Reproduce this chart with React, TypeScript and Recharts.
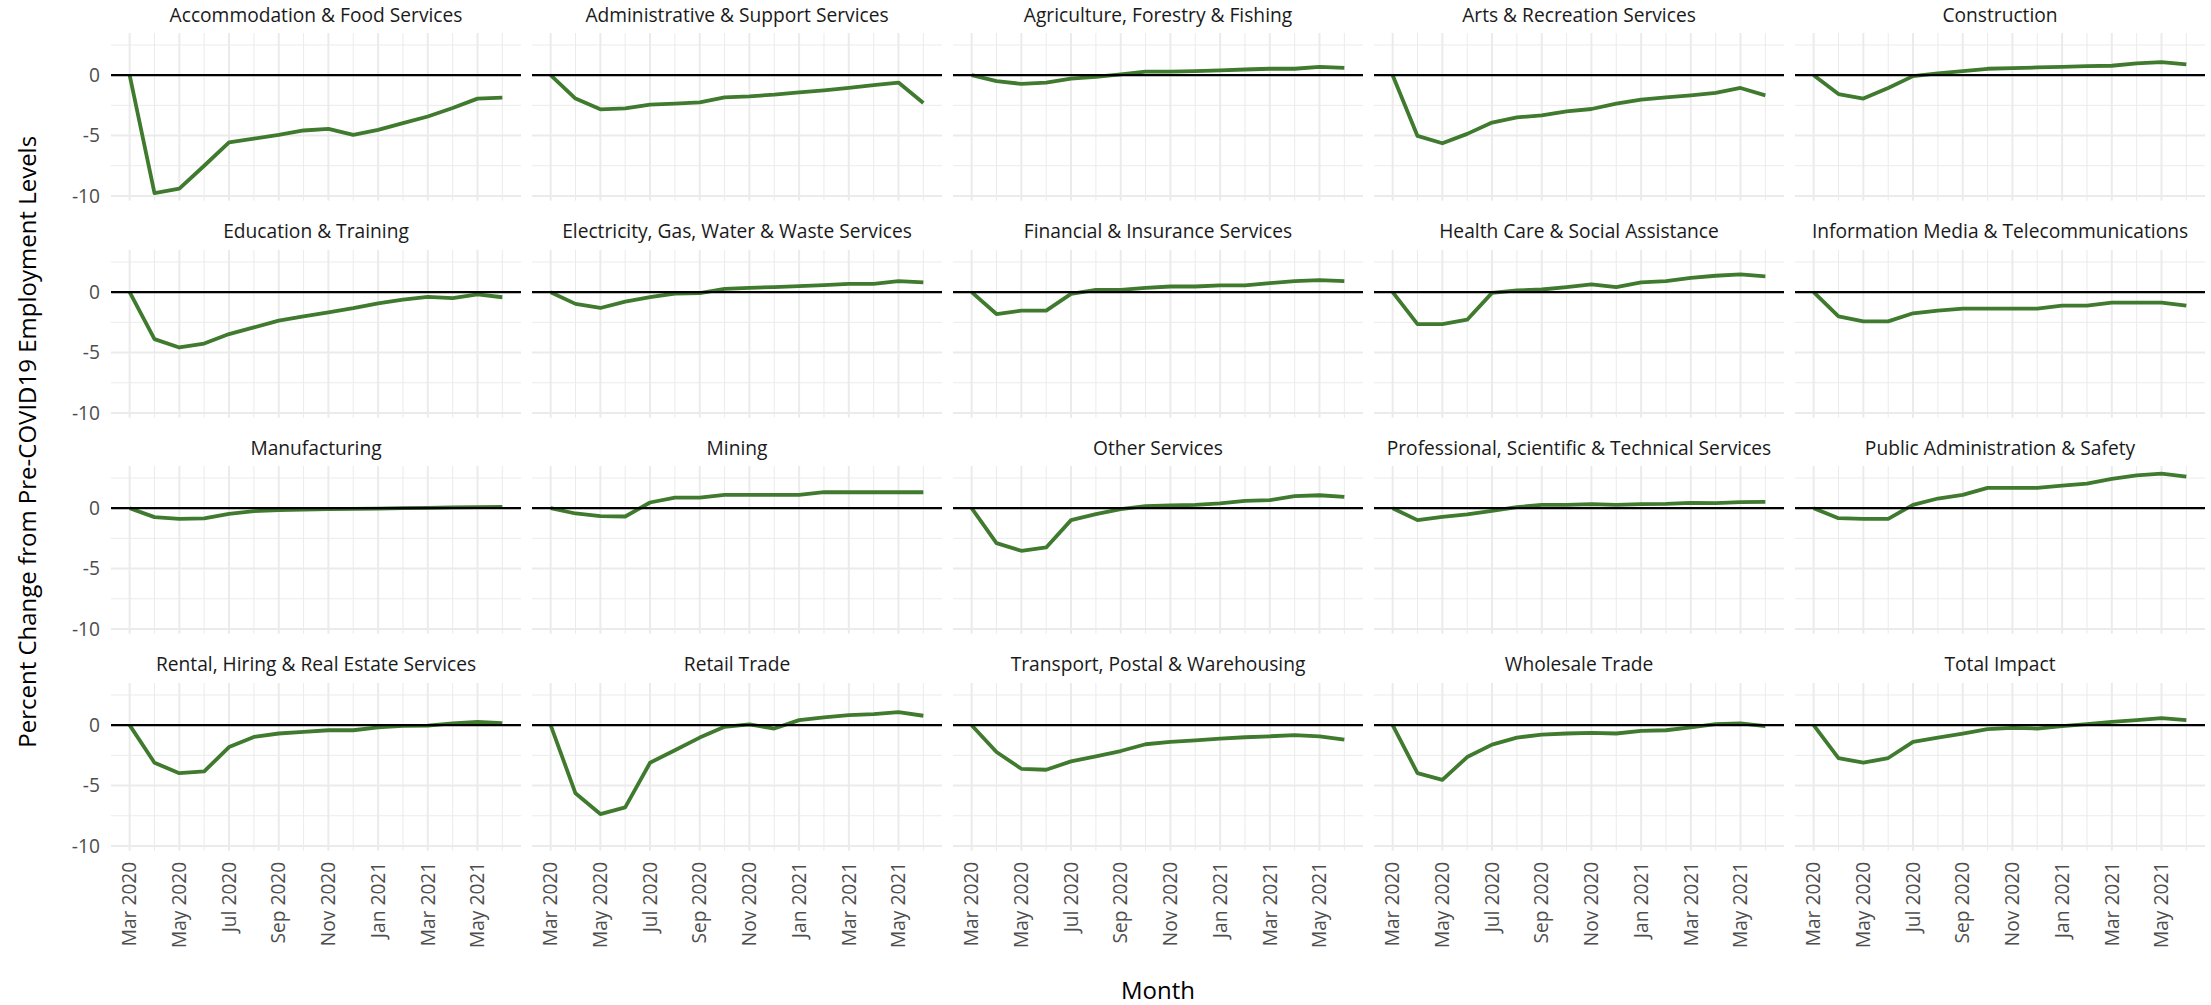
import React from 'react'
import { LineChart, Line, XAxis, YAxis, CartesianGrid, ReferenceLine } from 'recharts'

const MONTHS = [
  'Mar 2020', 'Apr 2020', 'May 2020', 'Jun 2020', 'Jul 2020', 'Aug 2020', 'Sep 2020', 'Oct 2020',
  'Nov 2020', 'Dec 2020', 'Jan 2021', 'Feb 2021', 'Mar 2021', 'Apr 2021', 'May 2021', 'Jun 2021',
]

const INDUSTRIES = [
  'Accommodation & Food Services', 'Administrative & Support Services', 'Agriculture, Forestry & Fishing',
  'Arts & Recreation Services', 'Construction', 'Education & Training',
  'Electricity, Gas, Water & Waste Services', 'Financial & Insurance Services', 'Health Care & Social Assistance',
  'Information Media & Telecommunications', 'Manufacturing', 'Mining', 'Other Services',
  'Professional, Scientific & Technical Services', 'Public Administration & Safety',
  'Rental, Hiring & Real Estate Services', 'Retail Trade', 'Transport, Postal & Warehousing',
  'Wholesale Trade', 'Total Impact',
]

// percent change from pre-COVID19 employment, Mar 2020 .. Jun 2021
const accommodation = [0, -9.76, -9.4, -7.5, -5.56, -5.25, -4.94, -4.58, -4.44, -4.94, -4.53, -3.97, -3.42, -2.72, -1.94, -1.86]
const administrative = [0, -1.94, -2.83, -2.75, -2.44, -2.36, -2.25, -1.83, -1.75, -1.61, -1.42, -1.25, -1.06, -0.83, -0.61, -2.31]
const agriculture = [0, -0.5, -0.72, -0.61, -0.28, -0.14, 0.06, 0.3, 0.3, 0.33, 0.39, 0.47, 0.53, 0.53, 0.69, 0.61]
const arts = [0, -5.03, -5.64, -4.86, -3.92, -3.5, -3.33, -3.0, -2.8, -2.36, -2.03, -1.83, -1.67, -1.47, -1.06, -1.67]
const construction = [0, -1.56, -1.94, -1.06, -0.08, 0.14, 0.33, 0.53, 0.58, 0.64, 0.69, 0.75, 0.78, 0.97, 1.08, 0.89]
const education = [0, -3.89, -4.58, -4.25, -3.47, -2.92, -2.36, -2.0, -1.67, -1.33, -0.92, -0.61, -0.39, -0.5, -0.19, -0.42]
const electricity = [0, -0.97, -1.31, -0.78, -0.42, -0.11, -0.08, 0.28, 0.36, 0.42, 0.5, 0.58, 0.69, 0.69, 0.92, 0.81]
const financial = [0, -1.81, -1.53, -1.53, -0.14, 0.19, 0.19, 0.36, 0.47, 0.47, 0.56, 0.56, 0.75, 0.92, 1.0, 0.92]
const health = [0, -2.64, -2.64, -2.28, -0.06, 0.14, 0.22, 0.42, 0.64, 0.42, 0.81, 0.92, 1.19, 1.36, 1.47, 1.31]
const infoMedia = [0, -2.0, -2.42, -2.42, -1.75, -1.53, -1.36, -1.36, -1.36, -1.36, -1.11, -1.11, -0.86, -0.86, -0.86, -1.11]
const manufacturing = [0, -0.74, -0.88, -0.85, -0.47, -0.25, -0.17, -0.11, -0.08, -0.06, -0.03, 0, 0.03, 0.06, 0.08, 0.11]
const mining = [0, -0.44, -0.66, -0.69, 0.47, 0.88, 0.88, 1.1, 1.1, 1.1, 1.1, 1.32, 1.32, 1.32, 1.32, 1.32]
const otherServices = [0, -2.89, -3.53, -3.25, -0.99, -0.5, -0.08, 0.17, 0.22, 0.28, 0.39, 0.61, 0.66, 0.99, 1.07, 0.94]
const professional = [0, -0.99, -0.72, -0.52, -0.22, 0.08, 0.28, 0.28, 0.33, 0.28, 0.33, 0.36, 0.44, 0.41, 0.5, 0.52]
const publicAdmin = [0, -0.83, -0.88, -0.88, 0.28, 0.8, 1.1, 1.68, 1.68, 1.68, 1.87, 2.04, 2.42, 2.72, 2.86, 2.61]
const rental = [0, -3.11, -3.97, -3.83, -1.81, -0.97, -0.69, -0.56, -0.42, -0.42, -0.19, -0.06, -0.03, 0.14, 0.28, 0.17]
const retail = [0, -5.64, -7.36, -6.81, -3.11, -2.08, -1.03, -0.14, 0.06, -0.28, 0.42, 0.64, 0.83, 0.92, 1.08, 0.78]
const transport = [0, -2.22, -3.61, -3.69, -3.0, -2.58, -2.14, -1.58, -1.39, -1.25, -1.11, -1.0, -0.92, -0.83, -0.92, -1.19]
const wholesale = [0, -3.97, -4.53, -2.64, -1.61, -1.03, -0.78, -0.69, -0.64, -0.69, -0.47, -0.42, -0.19, 0.08, 0.14, -0.08]
const totalImpact = [0, -2.72, -3.11, -2.72, -1.39, -1.03, -0.69, -0.33, -0.22, -0.28, -0.08, 0.08, 0.28, 0.42, 0.58, 0.42]

const SERIES = [
  accommodation, administrative, agriculture, arts, construction, education, electricity, financial,
  health, infoMedia, manufacturing, mining, otherServices, professional, publicAdmin, rental, retail,
  transport, wholesale, totalImpact,
]

const Y_TICKS = [-10, -5, 0]
const Y_MINOR = [-7.5, -2.5, 2.5]
const X_TICKS = [0, 2, 4, 6, 8, 10, 12, 14]
const X_MINOR = [1, 3, 5, 7, 9, 11, 13, 15]

const FONT = '"Open Sans", "DejaVu Sans", sans-serif'
const GREEN = '#3f7a2f'
const GRID = '#ebebeb'

const COLS = 5
const PLOT_LEFT = 111
const COL_STEP = 421
const PW = 410
const PLOT_TOP = 33.3
const ROW_STEP = 216.45
const PH = 167.7
const Y_AXIS_W = 111
const X_AXIS_H = 140
const PAD_BOTTOM = 14 // room so the lowest y tick label is not clipped

// shared scales, like facet_wrap with fixed scales (5% expansion)
const allVals = SERIES.flat()
const yMin = Math.min(...allVals)
const yMax = Math.max(...allVals)
const yPad = (yMax - yMin) * 0.05
const Y_DOMAIN = [yMin - yPad, yMax + yPad]
const X_DOMAIN = [-(MONTHS.length - 1) * 0.05, (MONTHS.length - 1) * 1.05]

function MonthTick({ x, y, payload }: any) {
  return (
    <text x={x} y={y} transform={`rotate(-90 ${x} ${y})`} textAnchor="end" dy="0.35em"
      fill="#4d4d4d" fontSize={19.2} fontFamily={FONT}>
      {MONTHS[payload.value]}
    </text>
  )
}

function Panel({ idx }: { idx: number }) {
  const col = idx % COLS
  const row = Math.floor(idx / COLS)
  const nRows = Math.ceil(SERIES.length / COLS)
  const showY = col === 0
  const showX = row === nRows - 1
  const plotLeft = PLOT_LEFT + col * COL_STEP
  const plotTop = PLOT_TOP + row * ROW_STEP
  const rows = SERIES[idx].map((v, i) => ({ i, v }))
  const w = PW + (showY ? Y_AXIS_W : 0)
  const h = PH + (showX ? X_AXIS_H : PAD_BOTTOM)
  return (
    <div style={{ position: 'absolute', left: showY ? plotLeft - Y_AXIS_W : plotLeft, top: plotTop }}>
      <LineChart width={w} height={h} data={rows}
        margin={{ top: 0, right: 0, bottom: showX ? 0 : PAD_BOTTOM, left: 0 }}>
        <CartesianGrid verticalValues={X_MINOR} horizontalValues={Y_MINOR} stroke={GRID} strokeWidth={1} />
        <CartesianGrid verticalValues={X_TICKS} horizontalValues={Y_TICKS} stroke={GRID} strokeWidth={2} />
        <XAxis type="number" dataKey="i" domain={X_DOMAIN} ticks={X_TICKS} interval={0} hide={!showX}
          height={X_AXIS_H} axisLine={false} tickLine={false} tickSize={0} tickMargin={11}
          tick={<MonthTick />} allowDataOverflow />
        <YAxis type="number" domain={Y_DOMAIN} ticks={Y_TICKS} interval={0} hide={!showY} width={Y_AXIS_W}
          axisLine={false} tickLine={false} tickSize={0} tickMargin={11} allowDataOverflow
          tick={{ fill: '#4d4d4d', fontSize: 19.2, fontFamily: FONT }} />
        <Line type="linear" dataKey="v" stroke={GREEN} strokeWidth={3.8} dot={false}
          strokeLinejoin="round" isAnimationActive={false} />
        <ReferenceLine y={0} stroke="#000" strokeWidth={2.4} />
      </LineChart>
    </div>
  )
}

export default function App() {
  const nRows = Math.ceil(SERIES.length / COLS)
  const plotsBottom = PLOT_TOP + (nRows - 1) * ROW_STEP + PH
  const plotsRight = PLOT_LEFT + (COLS - 1) * COL_STEP + PW
  const yMid = (PLOT_TOP + plotsBottom) / 2
  return (
    <div style={{ position: 'absolute', left: 0, top: 0, width: 2211, height: 1005, background: '#fff', overflow: 'hidden' }}>
      <svg width={2211} height={1005} style={{ position: 'absolute', left: 0, top: 0 }}>
        {INDUSTRIES.map((name, idx) => {
          const col = idx % COLS
          const row = Math.floor(idx / COLS)
          return (
            <text key={name} x={PLOT_LEFT + col * COL_STEP + PW / 2} y={PLOT_TOP + row * ROW_STEP - 11.6}
              textAnchor="middle" fill="#1a1a1a" fontSize={19.2} fontFamily={FONT}>
              {name}
            </text>
          )
        })}
        <text x={(PLOT_LEFT + plotsRight) / 2} y={999} textAnchor="middle" fill="#000" fontSize={24} fontFamily={FONT}>
          Month
        </text>
        <text x={36} y={yMid} transform={`rotate(-90 36 ${yMid})`}
          textAnchor="middle" fill="#000" fontSize={24} fontFamily={FONT}>
          Percent Change from Pre-COVID19 Employment Levels
        </text>
      </svg>
      {SERIES.map((_, idx) => <Panel key={idx} idx={idx} />)}
    </div>
  )
}
